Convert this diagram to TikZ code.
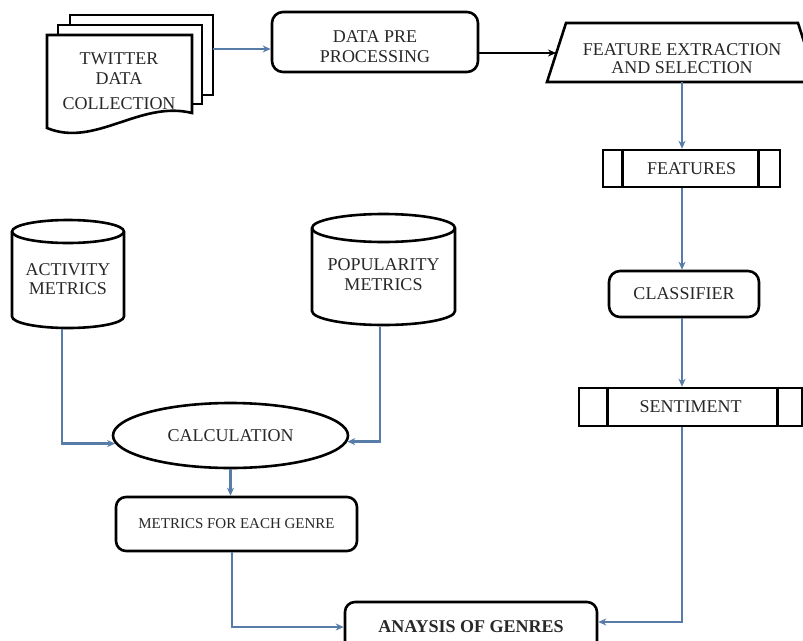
\documentclass[tikz,border=0pt]{standalone}
\usepackage{fontspec}
\setmainfont{Liberation Serif}
\usetikzlibrary{shapes.geometric,arrows.meta,calc}
\definecolor{connblue}{RGB}{88,124,168}
\definecolor{inkgray}{RGB}{40,40,40}
\begin{document}
\begin{tikzpicture}[x=1pt,y=1pt,
  outline/.style={draw=black, line width=2.6pt, fill=white},
  rbox/.style={outline, rounded corners=11pt, inner sep=0pt},
  txt/.style={font=\fontsize{18}{20}\selectfont, align=center, inner sep=0pt, text=inkgray},
  flow/.style={draw=connblue, line width=2.6pt, -{Stealth[length=8pt,width=7pt]}},
  blackflow/.style={draw=black, line width=2.2pt, -{Stealth[length=8pt,width=7pt]}},
]
\useasboundingbox (0,0) rectangle (803,-640);
\clip (0,0) rectangle (803,-640);
\fill[white] (0,0) rectangle (803,-640);

% --- Twitter data collection (multi document)
\draw[outline] (70,-15) rectangle (213,-95);
\draw[outline] (58,-25) rectangle (202,-104);
\draw[outline] (47,-35) -- (192,-35) -- (192,-113)
  .. controls (140,-100) and (95,-148) .. (47,-128) -- cycle;
\node[txt] (tw) at (119,-81) {TWITTER\\DATA\\[5pt]COLLECTION};
\coordinate (twout) at (213,-49);

% --- Data pre processing
\node[rbox, minimum width=206pt, minimum height=60pt] (pre) at (375,-42) {};
\node[txt] (pret) at (375,-47) {DATA PRE\\PROCESSING};

% --- Feature extraction (trapezium)
\node[minimum width=232pt, minimum height=59pt, inner sep=0pt] (fe) at (682,-52.5) {};
\draw[outline] (566,-23) -- (798,-23) -- (817,-82) -- (547,-82) -- cycle;
\node[txt] (fet) at (682,-59) {FEATURE EXTRACTION\\[-2pt]AND SELECTION};
\coordinate (fein) at (556,-53);

% --- Features
\node[outline, txt, minimum width=177pt, minimum height=37pt] (feat) at (691.5,-168.5) {FEATURES};
\draw[line width=2.6pt] ([xshift=21pt]feat.north west) -- ([xshift=21pt]feat.south west);
\draw[line width=2.6pt] ([xshift=-23pt]feat.north east) -- ([xshift=-23pt]feat.south east);

% --- Classifier
\node[rbox, txt, minimum width=150pt, minimum height=46pt] (cls) at (684,-294) {CLASSIFIER};

% --- Sentiment
\node[outline, txt, minimum width=223pt, minimum height=38pt] (sent) at (690.5,-407) {SENTIMENT};
\draw[line width=2.6pt] ([xshift=30pt]sent.north west) -- ([xshift=30pt]sent.south west);
\draw[line width=2.6pt] ([xshift=-26pt]sent.north east) -- ([xshift=-26pt]sent.south east);

% --- Activity metrics cylinder
\draw[outline] (12,-231.5) -- (12,-316.5)
  arc[start angle=180, end angle=360, x radius=56, y radius=11.5]
  -- (124,-231.5)
  arc[start angle=0, end angle=180, x radius=56, y radius=11.5] -- cycle;
\draw[line width=2.6pt] (12,-231.5) arc[start angle=180, end angle=360, x radius=56, y radius=11.5];
\node[txt] (act) at (68,-279.5) {ACTIVITY\\[-1pt]METRICS};
\coordinate (actb) at (62,-329);

% --- Popularity metrics cylinder
\draw[outline] (312,-228) -- (312,-311)
  arc[start angle=180, end angle=360, x radius=71.5, y radius=14]
  -- (455,-228)
  arc[start angle=0, end angle=180, x radius=71.5, y radius=14] -- cycle;
\draw[line width=2.6pt] (312,-228) arc[start angle=180, end angle=360, x radius=71.5, y radius=14];
\node[txt] (pop) at (383.5,-275) {POPULARITY\\METRICS};
\coordinate (popb) at (380,-327);

% --- Calculation
\node[outline, ellipse, txt, minimum width=235pt, minimum height=65pt] (calc) at (230.5,-435.5) {CALCULATION};

% --- Metrics for each genre
\node[rbox, rounded corners=10pt, minimum width=241pt, minimum height=54pt,
      font=\fontsize{15}{18}\selectfont, text=inkgray] (met) at (236.5,-524) {METRICS FOR EACH GENRE};

% --- Analysis of genres
\node[rbox, rounded corners=10pt, minimum width=252pt, minimum height=50pt,
      font=\bfseries\fontsize{18}{20}\selectfont, text=inkgray] (ana) at (471,-627) {ANAYSIS OF GENRES};

% --- Connectors
\draw[flow] (twout) -- (pre.west |- twout);
\draw[blackflow] ([yshift=-11pt]pre.east) -- (fein);
\draw[flow] (fe.south) -- (fe.south |- feat.north);
\draw[flow] (feat.south -| fe.south) -- (fe.south |- cls.north);
\draw[flow] (cls.south -| fe.south) -- (fe.south |- sent.north);
\draw[flow] (sent.south -| fe.south) |- ([yshift=5pt]ana.east);
\draw[flow] (actb) |- (calc.184);
\draw[flow] (popb) |- (calc.-3);
\draw[flow] (calc.south) -- (calc.south |- met.north);
\draw[flow] ([xshift=-4.5pt]met.south) |- (ana.west);
\end{tikzpicture}
\end{document}
